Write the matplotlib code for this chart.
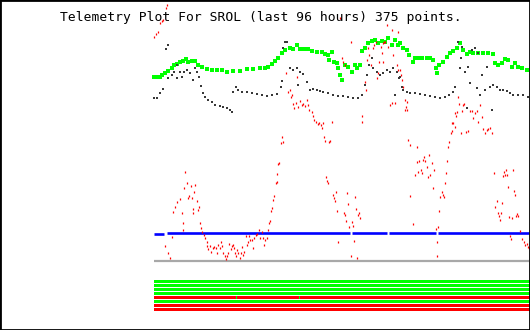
import matplotlib
matplotlib.use("Agg")
import matplotlib.pyplot as plt
import numpy as np
from matplotlib.patches import Rectangle

# ---------------- data (index = sample number 0..375, value = level) ----------------
title = "Telemetry Plot For SROL (last 96 hours) 375 points."
n_points = 375

green_idx = [0, 3, 6, 8, 11, 14, 18, 20, 23, 26, 29, 32, 34, 38, 41, 44, 48, 53, 58, 63, 68, 73,
             79, 86, 93, 99, 106, 111, 114, 118, 121, 124, 128, 131, 136, 139, 143, 146, 150, 154,
             158, 163, 168, 171, 174, 175, 178, 180, 183, 184, 186, 188, 191, 194, 198, 201, 203,
             206, 208, 211, 214, 218, 221, 224, 228, 231, 234, 238, 241, 244, 246, 249, 253, 255,
             259, 261, 264, 268, 273, 276, 279, 282, 283, 285, 289, 293, 296, 299, 303, 306, 309,
             313, 316, 319, 324, 329, 334, 339, 341, 344, 348, 351, 354, 358, 361, 364, 368, 373]
green_val = [184, 184, 184, 186, 188, 190, 193, 196, 197, 199, 200, 202, 199, 200, 200, 196, 194,
             192, 191, 191, 191, 189, 190, 190, 192, 192, 193, 193, 194, 197, 200, 203, 208, 211,
             213, 212, 216, 212, 212, 212, 210, 209, 209, 207, 206, 201, 209, 199, 198, 193, 186,
             181, 196, 194, 189, 196, 193, 196, 210, 213, 218, 220, 221, 218, 220, 219, 223, 216,
             221, 216, 218, 213, 211, 206, 199, 203, 203, 203, 203, 203, 201, 193, 188, 196, 199,
             204, 208, 210, 213, 218, 211, 207, 209, 208, 208, 208, 208, 207, 198, 196, 198, 202,
             201, 194, 198, 194, 193, 191]

gray_idx = [0, 3, 6, 9, 12, 14, 14, 18, 20, 23, 23, 26, 28, 30, 33, 36, 39, 41, 43, 45, 47, 49,
            51, 54, 58, 61, 66, 69, 73, 76, 78, 79, 82, 84, 88, 93, 98, 103, 108, 113, 118, 123,
            127, 128, 129, 131, 133, 136, 139, 143, 144, 146, 149, 153, 156, 159, 163, 166, 169,
            174, 179, 184, 189, 194, 199, 204, 208, 211, 213, 215, 218, 219, 223, 226, 229, 233,
            236, 239, 241, 243, 245, 246, 248, 249, 253, 256, 261, 266, 271, 276, 281, 286, 291,
            295, 299, 301, 304, 306, 307, 308, 311, 313, 314, 316, 318, 321, 323, 324, 326, 328,
            331, 333, 336, 338, 339, 343, 346, 349, 353, 356, 359, 364, 369, 374]
gray_val = [163, 163, 168, 172, 212, 216, 183, 186, 189, 196, 183, 189, 184, 189, 191, 188, 181,
            193, 189, 184, 175, 168, 164, 161, 159, 156, 155, 154, 153, 151, 149, 169, 174, 171,
            169, 169, 168, 167, 166, 165, 166, 167, 174, 180, 213, 219, 219, 193, 191, 193, 176,
            189, 187, 179, 171, 172, 171, 170, 169, 168, 166, 165, 165, 164, 163, 163, 166, 176,
            186, 196, 203, 193, 189, 186, 188, 191, 189, 193, 166, 189, 183, 184, 174, 171, 169,
            168, 168, 167, 166, 165, 164, 163, 164, 166, 169, 174, 219, 193, 203, 214, 189, 153,
            194, 178, 211, 213, 173, 208, 166, 186, 171, 194, 174, 151, 176, 174, 171, 171, 170,
            168, 166, 166, 166, 164]

red_idx = [0, 2, 4, 6, 8, 9, 12, 13, 11, 14, 16, 18, 19, 21, 23, 26, 28, 29, 29, 30, 31, 33, 34,
           35, 37, 38, 39, 39, 40, 41, 43, 44, 45, 46, 47, 48, 50, 51, 53, 53, 54, 56, 57, 59, 60,
           62, 63, 64, 66, 67, 68, 69, 71, 72, 73, 74, 75, 77, 78, 79, 80, 81, 82, 83, 84, 86, 87,
           88, 89, 90, 92, 93, 94, 95, 96, 98, 99, 100, 102, 103, 105, 106, 108, 109, 110, 111,
           113, 114, 115, 116, 117, 118, 119, 120, 122, 123, 123, 124, 125, 127, 128, 129, 132,
           134, 136, 137, 138, 139, 140, 142, 143, 144, 146, 148, 149, 151, 153, 154, 155, 158,
           159, 160, 162, 164, 165, 167, 168, 169, 170, 171, 172, 173, 174, 175, 176, 178, 179,
           180, 181, 182, 183, 184, 186, 188, 189, 190, 191, 191, 192, 193, 194, 195, 197, 197,
           198, 199, 200, 201, 202, 203, 204, 205, 206, 208, 208, 211, 212, 213, 214, 215, 217,
           219, 220, 222, 223, 224, 225, 227, 228, 229, 229, 230, 231, 233, 234, 236, 238, 238,
           239, 241, 243, 244, 244, 246, 247, 248, 249, 251, 251, 252, 253, 253, 254, 256, 256,
           259, 261, 263, 263, 264, 265, 267, 268, 269, 270, 271, 273, 274, 275, 276, 278, 279,
           280, 282, 283, 283, 284, 285, 286, 288, 289, 290, 291, 292, 293, 294, 295, 297, 298,
           298, 299, 301, 301, 302, 303, 304, 305, 307, 308, 309, 310, 312, 314, 316, 318, 319,
           321, 323, 324, 326, 328, 329, 331, 333, 334, 336, 338, 340, 341, 343, 344, 345, 346,
           347, 348, 349, 350, 351, 352, 353, 354, 355, 356, 357, 358, 359, 360, 361, 362, 363,
           364, 366, 368, 370, 371, 373, 374, 375]
red_val = [224, 227, 229, 238, 240, 241, 253, 256, 15, 8, 3, 24, 49, 54, 59, 62, 48, 38, 31, 73,
           89, 78, 63, 65, 75, 63, 48, 52, 69, 76, 60, 51, 54, 38, 33, 29, 26, 23, 19, 15, 12, 15,
           9, 13, 14, 13, 8, 16, 13, 19, 15, 8, 5, 2, 5, 8, 17, 12, 15, 16, 13, 8, 5, 11, 8, 3, 8,
           14, 6, 9, 25, 16, 19, 25, 21, 21, 13, 23, 26, 27, 31, 23, 29, 23, 16, 21, 23, 31, 38,
           40, 50, 53, 61, 65, 78, 79, 87, 97, 98, 118, 124, 119, 188, 169, 171, 164, 166, 157,
           153, 158, 184, 154, 160, 156, 157, 155, 161, 156, 151, 149, 145, 141, 139, 137, 138,
           136, 133, 138, 124, 120, 84, 80, 78, 119, 120, 139, 66, 63, 60, 69, 50, 19, 243, 203,
           199, 48, 196, 46, 40, 68, 57, 34, 219, 5, 39, 35, 20, 64, 52, 3, 46, 48, 43, 145, 139,
           179, 171, 201, 213, 206, 196, 213, 216, 219, 183, 188, 199, 214, 208, 218, 199, 219,
           219, 236, 214, 156, 158, 231, 206, 158, 196, 191, 229, 191, 186, 181, 174, 161, 151,
           154, 159, 151, 121, 116, 65, 37, 86, 114, 99, 89, 100, 91, 88, 101, 104, 100, 94, 84,
           106, 86, 98, 73, 91, 32, 19, 5, 34, 50, 64, 69, 66, 64, 78, 88, 100, 114, 119, 128,
           130, 138, 138, 134, 148, 145, 149, 164, 157, 128, 150, 156, 157, 129, 130, 150, 150,
           143, 148, 150, 139, 156, 144, 132, 128, 131, 132, 133, 128, 88, 54, 60, 48, 45, 41, 48,
           58, 85, 89, 86, 91, 86, 74, 44, 25, 22, 43, 91, 70, 66, 45, 47, 45, 30, 22, 19, 16,
           17, 14, 13]

blue_idx = [0, 10, 11, 13, 196, 197, 198, 233, 234, 235, 282, 283, 284, 375]
blue_val = [27, 27, np.nan, 28, 28, np.nan, 28, 28, np.nan, 28, 28, np.nan, 28, 28]

base_idx = [0, 375]
base_val = [0, 0]

status_rows = ["ok", "ok", "ok", "ok", "fail", "ok", "fail", "fail"]
status_ok_exceptions = {4: [82, 145]}

# ---------------- figure ----------------
W, H = 530, 330
fig = plt.figure(figsize=(W / 100, H / 100), dpi=100)
fig.patch.set_facecolor("white")

ax = fig.add_axes([154 / W, (H - 261) / H, 376 / W, 261 / H])
ax.set_xlim(0, 376)
ax.set_ylim(0, 261)
ax.axis("off")

ax.plot(base_idx, base_val, color="#a8a8a8", lw=1.6, solid_capstyle="butt", clip_on=False, zorder=1)
ax.plot(blue_idx, blue_val, color="#0000ff", lw=1.9, solid_capstyle="butt", clip_on=False, zorder=2)
ax.plot(green_idx, green_val, ls="none", marker="s", ms=2.2, mew=0, color="#00ff00",
        clip_on=False, zorder=3)
ax.plot(gray_idx, gray_val, ls="none", marker="s", ms=1.6, mew=0, color="#383838",
        clip_on=False, zorder=3)
ax.plot(red_idx, red_val, ls="none", marker="|", ms=2.0, mew=0.9, color="#ff0000",
        clip_on=False, zorder=4)

# status bars
ax2 = fig.add_axes([154 / W, (H - 312) / H, 376 / W, 32 / H])
ax2.set_xlim(0, 376)
ax2.set_ylim(32, 0)
ax2.axis("off")
colors = {"ok": "#00ff00", "fail": "#ff0000"}
for i, st in enumerate(status_rows):
    ax2.broken_barh([(0, n_points + 1)], (4 * i, 2.8), facecolors=colors[st], linewidth=0)
    for k in status_ok_exceptions.get(i, []):
        ax2.broken_barh([(k, 1)], (4 * i, 2.8), facecolors=colors["ok"], linewidth=0)

fig.text(60 / W, 1 - 17 / H, title, family="DejaVu Sans Mono", fontsize=9.4,
         ha="left", va="center", color="black")

fig.patches.append(Rectangle((0, 0), 1, 1, transform=fig.transFigure, fill=False,
                             edgecolor="black", lw=2.0, zorder=10))

fig.savefig("out.png", dpi=100, facecolor="white")
